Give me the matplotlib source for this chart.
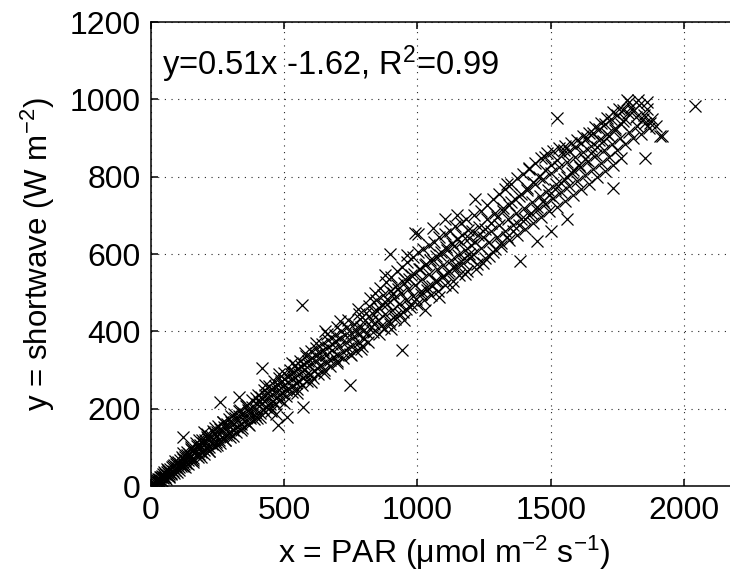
import numpy as np
import matplotlib.pyplot as plt

plt.rcParams['font.family'] = ['Liberation Sans', 'DejaVu Sans']
plt.rcParams['mathtext.fontset'] = 'custom'
plt.rcParams['mathtext.rm'] = 'Liberation Sans'
plt.rcParams['mathtext.it'] = 'Liberation Sans'

## Data (PAR in umol m-2 s-1, shortwave in W m-2)

# dense core near the origin
par_low = [3, 5, 8, 10, 12, 15, 18, 20, 22, 25, 28, 30, 33, 36, 40, 42, 45, 48, 50, 53,
           56, 60, 63, 66, 70, 74, 78, 80, 85, 88, 92, 95, 100, 104, 108, 112, 116, 120, 125, 130,
           134, 138, 142, 146, 150, 155, 160, 165, 170, 175, 180, 185, 190, 196, 200, 205, 210, 216, 220, 226,
           232, 238, 244, 250, 256, 262, 268, 275, 282, 288, 295, 302, 310, 318, 325, 332, 340, 348, 356, 364,
           372, 380, 390, 398,
           60, 90, 120, 150, 180, 210, 240, 270, 300, 330, 360, 395,
           70, 100, 130, 160, 190, 220, 250, 280, 310, 340, 370, 400,
           7, 14, 19, 27, 31, 38, 44, 52, 57, 64, 68, 76, 83, 87, 94, 99, 106, 111, 118, 123,
           129, 136, 141, 148, 153, 158, 167, 172, 178, 186, 193, 199, 207, 213, 218, 228, 234, 241, 247, 253,
           259, 266, 273, 279, 286, 293, 299, 307, 313, 321, 327, 336, 343, 351, 358, 366, 374, 382, 388, 396]
sw_low = [2, 5, 2, 8, 4, 10, 6, 14, 8, 15, 11, 19, 14, 22, 16, 26, 20, 30, 22, 32,
          24, 36, 28, 40, 30, 44, 34, 48, 38, 54, 42, 56, 46, 62, 50, 66, 52, 70, 58, 76,
          60, 80, 66, 84, 68, 92, 72, 96, 80, 104, 84, 106, 88, 112, 92, 120, 98, 122, 100, 130,
          108, 136, 114, 140, 118, 148, 126, 152, 132, 160, 138, 166, 144, 176, 152, 182, 160, 190, 168, 196,
          176, 204, 184, 212,
          45, 65, 85, 100, 118, 135, 150, 165, 180, 195, 210, 228,
          22, 35, 50, 62, 76, 90, 105, 118, 130, 145, 158, 175,
          9, 3, 12, 18, 9, 24, 14, 35, 19, 42, 26, 31, 51, 33, 48, 60, 41, 58, 74, 52,
          68, 88, 57, 78, 96, 66, 88, 110, 74, 99, 118, 84, 110, 128, 91, 117, 142, 104, 130, 156,
          112, 140, 166, 120, 150, 174, 128, 158, 186, 140, 170, 196, 150, 178, 206, 160, 190, 222, 172, 200]

# heavy band 400-800
par_mid = [405, 410, 415, 420, 428, 434, 440, 446, 452, 458, 465, 470, 476, 482, 488, 494, 500, 506, 512, 518,
           525, 531, 538, 544, 550, 556, 563, 570, 577, 584, 590, 597, 604, 611, 618, 625, 632, 640, 648, 656,
           664, 672, 680, 688, 696, 704, 712, 720, 730, 740, 750, 760, 770, 780, 790, 800,
           430, 480, 530, 580, 620, 660, 700, 740, 780,
           450, 500, 550, 600, 650, 700, 750, 790,
           403, 409, 417, 424, 431, 437, 443, 449, 456, 462, 468, 475, 481, 487, 495, 502, 508, 515, 521, 529,
           535, 542, 548, 555, 561, 568, 575, 582, 588, 595, 602, 608, 615, 622, 628, 636, 643, 651, 658, 666,
           674, 682, 690, 698, 706, 714, 722, 731, 738, 746, 755, 763, 771, 779, 786, 794, 798, 776, 712, 655]
sw_mid = [218, 190, 230, 200, 236, 205, 240, 212, 250, 220, 258, 228, 262, 236, 270, 240, 276, 248, 284, 252,
          290, 258, 296, 266, 302, 272, 310, 280, 316, 286, 322, 290, 330, 298, 338, 306, 344, 312, 352, 320,
          360, 326, 368, 334, 374, 340, 382, 346, 390, 356, 396, 364, 404, 372, 412, 380,
          262, 290, 318, 345, 370, 392, 410, 430, 445,
          195, 215, 240, 268, 292, 318, 340, 355,
          236, 178, 214, 248, 192, 226, 258, 204, 238, 272, 212, 246, 280, 222, 258, 292, 232, 268, 300, 242,
          278, 312, 250, 290, 324, 262, 300, 336, 272, 312, 348, 280, 322, 358, 290, 332, 366, 300, 340, 378,
          310, 352, 390, 322, 362, 400, 330, 372, 410, 342, 384, 420, 350, 394, 432, 362, 402, 458, 428, 400]

# band 800-1200
par_hi = [805, 812, 818, 825, 832, 838, 845, 852, 858, 865, 872, 878, 885, 892, 898, 905, 912, 918, 925, 932,
          938, 945, 952, 958, 965, 972, 978, 985, 992, 998, 1005, 1012, 1018, 1025, 1032, 1038, 1045, 1052, 1058, 1065,
          1072, 1078, 1085, 1092, 1098, 1105, 1112, 1118, 1125, 1132, 1138, 1145, 1152, 1158, 1165, 1172, 1178, 1185, 1192, 1198,
          808, 815, 822, 829, 835, 842, 849, 855, 862, 869, 875, 882, 889, 896, 902, 909, 915, 922, 929, 936,
          942, 949, 956, 962, 969, 976, 982, 989, 995, 1002, 1009, 1015, 1022, 1029, 1035, 1042, 1049, 1055, 1062, 1069,
          1075, 1082, 1089, 1095, 1102, 1109, 1115, 1122, 1129, 1135, 1142, 1149, 1155, 1162, 1169, 1175, 1182, 1189, 1195,
          1030, 1080, 1130, 1180, 950, 900, 990, 1060, 880, 960, 1150]
sw_hi = [430, 395, 465, 410, 448, 420, 480, 430, 460, 415, 495, 445, 470, 428, 505, 455, 485, 440, 520, 470,
         498, 450, 535, 482, 510, 462, 545, 492, 520, 470, 560, 505, 535, 480, 575, 515, 548, 495, 585, 530,
         560, 505, 598, 540, 572, 520, 610, 555, 585, 530, 620, 565, 598, 545, 632, 578, 610, 555, 642, 590,
         448, 372, 486, 430, 398, 500, 452, 392, 512, 470, 408, 528, 482, 420, 540, 498, 432, 556, 510, 444,
         566, 524, 458, 580, 536, 470, 592, 548, 484, 604, 562, 496, 612, 572, 506, 622, 584, 518, 632, 596,
         530, 644, 606, 542, 652, 618, 552, 660, 628, 566, 672, 640, 578, 680, 650, 590, 690, 662, 600,
         455, 488, 515, 548, 430, 405, 655, 668, 545, 598, 700]

# upper range, two loose branches
par_top = [1205, 1210, 1218, 1225, 1232, 1240, 1248, 1255, 1262, 1270, 1278, 1285, 1292, 1300, 1308, 1315, 1322, 1330, 1338, 1345,
           1352, 1360, 1368, 1375, 1382, 1390, 1398, 1405, 1412, 1420, 1428, 1435, 1442, 1450, 1458, 1465, 1472, 1480, 1488, 1495,
           1502, 1510, 1518, 1525, 1532, 1540, 1548, 1555, 1562, 1570, 1578, 1585, 1592, 1600, 1608, 1615, 1622, 1630, 1638, 1645,
           1652, 1660, 1668, 1675, 1682, 1690, 1698, 1705, 1712, 1720, 1728, 1735, 1742, 1750, 1758, 1765, 1772, 1780, 1788, 1795,
           1802, 1810, 1818, 1825, 1832, 1840, 1848, 1855, 1862, 1870,
           1480, 1420, 1550, 1500, 1560,
           1203, 1212, 1221, 1229, 1237, 1246, 1253, 1261, 1269, 1276, 1284, 1291, 1299, 1307, 1314, 1321, 1329, 1337, 1344, 1351,
           1359, 1366, 1374, 1381, 1389, 1396, 1404, 1411, 1419, 1426, 1434, 1441, 1449, 1456, 1464, 1471, 1479, 1486, 1494, 1501,
           1509, 1516, 1524, 1531, 1539, 1546, 1554, 1561, 1569, 1576, 1584, 1591, 1599, 1606, 1614, 1621, 1629, 1636, 1644, 1651,
           1659, 1666, 1674, 1681, 1689, 1696, 1704, 1711, 1719, 1726, 1734, 1741, 1749, 1756, 1764, 1771, 1779, 1794, 1808, 1826,
           1845, 1860, 1880, 1895]
sw_top = [660, 600, 630, 575, 670, 615, 645, 590, 690, 630, 660, 605, 705, 645, 675, 620, 720, 660, 690, 635,
          735, 675, 705, 650, 750, 690, 720, 665, 765, 700, 735, 680, 780, 715, 750, 695, 795, 730, 765, 710,
          810, 745, 780, 722, 825, 760, 795, 738, 838, 775, 810, 752, 852, 790, 825, 768, 865, 805, 840, 782,
          880, 820, 855, 798, 895, 835, 870, 815, 910, 850, 885, 830, 925, 868, 900, 848, 945, 885, 965, 915,
          980, 900, 955, 930, 985, 910, 960, 940, 975, 925,
          850, 820, 870, 660, 690,
          622, 700, 560, 648, 712, 578, 664, 726, 596, 680, 742, 612, 696, 756, 628, 712, 768, 644, 726, 782,
          660, 742, 796, 676, 756, 808, 690, 770, 822, 706, 786, 836, 722, 800, 848, 738, 816, 862, 752, 830,
          866, 768, 844, 874, 784, 858, 880, 800, 866, 886, 816, 876, 894, 830, 888, 904, 846, 900, 914, 862,
          912, 928, 876, 924, 940, 892, 936, 952, 906, 948, 966, 920, 960, 976, 936, 972, 950, 992, 970, 998,
          948, 992, 950, 930]

# isolated points
par_out = [260, 122, 200, 330, 568, 478, 470, 511, 572, 418, 748, 943, 898, 1003, 1104, 1216, 1336,
           1385, 1448, 1734, 1853, 1917, 1872, 1910, 1786, 1523, 2041]
sw_out = [217, 126, 140, 230, 467, 157, 185, 178, 204, 306, 262, 352, 601, 653, 691, 743, 781,
          583, 634, 771, 847, 906, 939, 906, 997, 952, 984]

par = np.concatenate([par_low, par_mid, par_hi, par_top, par_out])
sw = np.concatenate([sw_low, sw_mid, sw_hi, sw_top, sw_out])

## Plotting

fig = plt.figure(figsize=(7.3, 5.88), dpi=100)
ax = fig.add_axes([150.5 / 730, 102.0 / 588, 587.0 / 730, 464.0 / 588])

ax.plot(par, sw, 'x', color='k', ms=8, mew=0.9, zorder=3)

ax.set_xlim(0, 2200)
ax.set_ylim(0, 1200)
ax.set_xticks([0, 500, 1000, 1500, 2000])
ax.set_yticks(np.arange(0, 1201, 200))
ax.grid(True, color='0.15', linestyle=(0, (1, 5)), linewidth=0.8)
ax.set_axisbelow(True)

for s in ax.spines.values():
    s.set_linewidth(1.1)
ax.tick_params(direction='in', top=True, right=True, length=5, width=1.1,
               labelsize=23, pad=7)

ax.text(43, 1092, 'y=0.51x -1.62, R$^2$=0.99', fontsize=23.5, va='center', ha='left')

ax.set_xlabel('x = PAR (μmol m$^{-2}$ s$^{-1}$)', fontsize=23, labelpad=6)
ax.set_ylabel('y = shortwave (W m$^{-2}$)', fontsize=22.5, labelpad=9)

fig.savefig('out.png', dpi=100)
